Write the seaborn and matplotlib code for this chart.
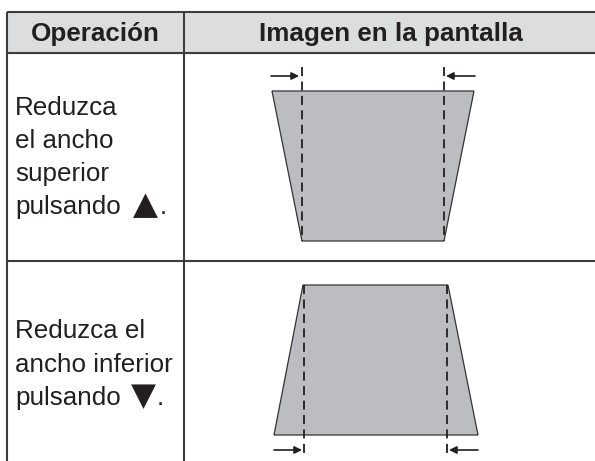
import matplotlib
matplotlib.use("Agg")
import matplotlib.pyplot as plt
import seaborn as sns
import pandas as pd

# ---- content ----
headers = ["Operación", "Imagen en la pantalla"]
row1_lines = ["Reduzca", "el ancho", "superior", "pulsando"]
row2_lines = ["Reduzca el", "ancho inferior", "pulsando"]
row1_key = "▲"
row2_key = "▼"

# trapezoid outlines (pixel space of the page)
trap1_x = [272, 474, 444, 302]
trap1_y = [91, 91, 241, 241]
trap2_x = [303, 448, 478, 274]
trap2_y = [285, 285, 435, 435]

# dashed guide lines
guide1_x = [302, 444]
guide1_y = [67, 241]
guide2_x = [304, 447]
guide2_y = [285, 457]

# arrows (tail x, head x) at a given y
arrow1_y = 76
arrow1_tail = [271, 475]
arrow1_head = [299, 446]
arrow2_y = 450
arrow2_tail = [274, 478]
arrow2_head = [302, 449]

# table grid
col_edges = [7, 184, 598]
row_edges = [12, 53, 261, 470]

sns.set_theme(style="white")
plt.rcParams['font.family'] = ['Liberation Sans', 'DejaVu Sans']

W, H = 595, 461
fig = plt.figure(figsize=(W / 100, H / 100), dpi=100)
ax = fig.add_axes([0, 0, 1, 1])
ax.set_xlim(0, W)
ax.set_ylim(H, 0)
ax.axis("off")

ink = "#231f20"
border = "#3d3d3d"

# header band
ax.fill([col_edges[0], col_edges[-1], col_edges[-1], col_edges[0]],
        [row_edges[0], row_edges[0], row_edges[1], row_edges[1]],
        color="#dcdddf", zorder=1)

# grid lines
for y in row_edges[:3]:
    ax.plot([col_edges[0], col_edges[-1]], [y, y], color=border, lw=1.5, zorder=3,
            solid_capstyle="butt")
for x in col_edges:
    ax.plot([x, x], [row_edges[0], row_edges[-1]], color=border, lw=1.5, zorder=3,
            solid_capstyle="butt")

# header text
fs = 18.7
for i, h in enumerate(headers):
    cx = (col_edges[i] + col_edges[i + 1]) / 2
    ax.text(cx, (row_edges[0] + row_edges[1]) / 2 + 1, h, ha="center", va="center",
            fontsize=fs, fontweight="bold", color=ink, zorder=4)

# body text
def body(lines, y0, dy, key, key_x, dot_x):
    for k, line in enumerate(lines):
        y = y0 + dy * k
        ax.text(15, y, line, ha="left", va="baseline", fontsize=fs,
                color=ink, zorder=4)
    yl = y0 + dy * (len(lines) - 1)
    ax.text(key_x, yl, key, ha="left", va="baseline", fontsize=fs * 1.25,
            color=ink, zorder=4, family=['DejaVu Sans'])
    ax.text(dot_x, yl, ".", ha="left", va="baseline", fontsize=fs,
            color=ink, zorder=4)

body(row1_lines, 115, 33, row1_key, 133, 160)
body(row2_lines, 338, 33.5, row2_key, 131, 157)

# trapezoids
fill_c = "#bcbdc0"
ax.fill(trap1_x, trap1_y, facecolor=fill_c, edgecolor="#333333", lw=0.9, zorder=2)
ax.fill(trap2_x, trap2_y, facecolor=fill_c, edgecolor="#333333", lw=0.9, zorder=2)

# dashed guides via seaborn
guides = []
for gid, (gx, gy) in enumerate([(guide1_x, guide1_y), (guide2_x, guide2_y)]):
    for j, x in enumerate(gx):
        for y in gy:
            guides.append({"x": x, "y": y, "g": f"{gid}-{j}"})
gdf = pd.DataFrame(guides)
for g, sub in gdf.groupby("g"):
    sns.lineplot(data=sub, x="x", y="y", ax=ax, color=ink, lw=1.3,
                 dashes=False, sort=False, estimator=None, zorder=3,
                 linestyle=(0, (5, 3)))

# arrows
for y, tails, heads in [(arrow1_y, arrow1_tail, arrow1_head),
                        (arrow2_y, arrow2_tail, arrow2_head)]:
    for t, h in zip(tails, heads):
        ax.annotate("", xy=(h, y), xytext=(t, y),
                    arrowprops=dict(arrowstyle="-|>", color=ink, lw=1.2,
                                    mutation_scale=11, shrinkA=0, shrinkB=0),
                    zorder=4)

ax.set_xlim(0, W)
ax.set_ylim(H, 0)
ax.axis("off")
fig.savefig("out.png", dpi=100)
